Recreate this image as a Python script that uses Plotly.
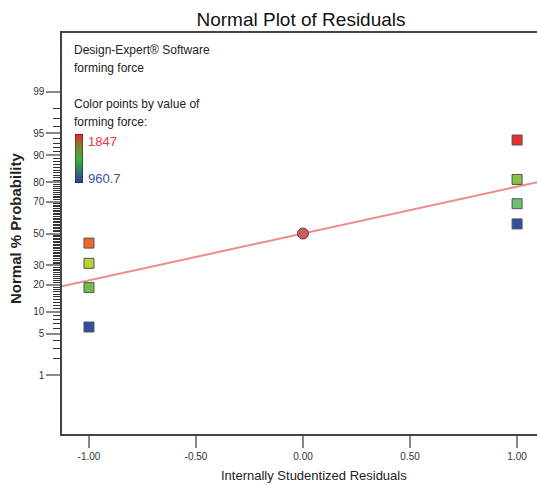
import plotly.graph_objects as go
from statistics import NormalDist

# ---- data ----
residuals = [-1.0, -1.0, -1.0, -1.0, 1.0, 1.0, 1.0, 1.0]
normal_prob = [6.25, 18.75, 31.25, 43.75, 56.25, 68.75, 81.25, 93.75]
point_colors = ["#3350A0", "#6CBE4C", "#B9D134", "#F0662A",
                "#3350A0", "#6CC070", "#86C23C", "#E8302E"]
center_resid = [0.0]
center_prob = [50.0]
line_resid = [-1.2, 1.2]
line_prob = [17.8, 82.2]
prob_ticks = [1, 5, 10, 20, 30, 50, 70, 80, 90, 95, 99]
minor_prob = [p for p in range(2, 99) if p not in prob_ticks]
x_ticks = [-1.0, -0.5, 0.0, 0.5, 1.0]
x_tick_labels = ["-1.00", "-0.50", "0.00", "0.50", "1.00"]
force_range = [960.7, 1847]

nd = NormalDist()
def zq(p):
    return nd.inv_cdf(p / 100.0)

FONT = "Liberation Sans, Arial, sans-serif"
L, T, W, H = 62, 33, 475, 401   # plot area in pixels

def px(x):
    return (x - L) / W

def py(y):
    return (T + H - y) / H

fig = go.Figure()

fig.add_trace(go.Scatter(
    x=line_resid, y=[zq(p) for p in line_prob], mode="lines",
    line=dict(color="#F08A8A", width=2), hoverinfo="skip", showlegend=False))

fig.add_trace(go.Scatter(
    x=residuals, y=[zq(p) for p in normal_prob], mode="markers",
    marker=dict(symbol="square", size=10, color=point_colors,
                line=dict(color="#555555", width=1)),
    showlegend=False))

fig.add_trace(go.Scatter(
    x=center_resid, y=[zq(p) for p in center_prob], mode="markers",
    marker=dict(symbol="circle", size=11, color="#C46060",
                line=dict(color="#7A3A3A", width=1)),
    showlegend=False))

# colour key bar drawn as a tiny heatmap on an inset axis
fig.add_trace(go.Heatmap(
    z=[[force_range[0]], [force_range[1]]], x=[0], y=[0, 1],
    zsmooth="best", showscale=False, hoverinfo="skip",
    colorscale=[[0, "#283C9A"], [0.5, "#3CB043"], [0.78, "#8A7A30"], [1, "#E8242A"]],
    xaxis="x2", yaxis="y2"))

fig.update_layout(
    width=537, height=485,
    margin=dict(l=L, r=537 - L - W, t=T, b=485 - T - H, autoexpand=False),
    paper_bgcolor="white", plot_bgcolor="white",
    font=dict(family=FONT, color="#222"),
    title=dict(text="Normal Plot of Residuals", x=301 / 537, xanchor="center",
               y=1 - 19 / 485, yanchor="middle",
               font=dict(size=19, color="#111", family=FONT)),
    showlegend=False,
    xaxis=dict(
        range=[-1.126, 1.093], tickvals=x_ticks, ticktext=x_tick_labels,
        ticks="outside", ticklen=12, tickwidth=2, tickcolor="#888",
        tickfont=dict(size=10, color="#333"), automargin=False,
        showline=True, linecolor="#444", linewidth=1.5, mirror=True,
        showgrid=False, zeroline=False),
    yaxis=dict(
        range=[-3.29, 3.29], tickvals=[zq(p) for p in prob_ticks],
        ticktext=[str(p) for p in prob_ticks],
        ticks="outside", ticklen=14, tickwidth=2, tickcolor="#888",
        tickfont=dict(size=10, color="#333"), automargin=False,
        minor=dict(tickvals=[zq(p) for p in minor_prob], ticks="outside",
                   ticklen=7, tickwidth=1, tickcolor="#333", showgrid=False),
        showline=True, linecolor="#444", linewidth=1.5, mirror=False,
        showgrid=False, zeroline=False),
    xaxis2=dict(domain=[px(75), px(83)], range=[-0.5, 0.5], anchor="y2",
                visible=False, fixedrange=True),
    yaxis2=dict(domain=[py(183), py(134)], range=[0, 1], anchor="x2",
                visible=False, fixedrange=True),
)

fig.add_shape(type="rect", xref="x2", yref="y2", x0=-0.5, x1=0.5, y0=0, y1=1,
              line=dict(color="#222", width=1))

annots = [
    ("Design-Expert® Software", 50),
    ("forming force", 68),
    ("Color points by value of", 104),
    ("forming force:", 122),
]
for text, y in annots:
    fig.add_annotation(text=text, xref="paper", yref="paper",
                       x=px(72), y=py(y), xanchor="left", yanchor="middle",
                       showarrow=False, font=dict(size=12, color="#222", family=FONT))

fig.add_annotation(text=f"{force_range[1]:g}", xref="paper", yref="paper",
                   x=px(86), y=py(141), xanchor="left", yanchor="middle",
                   showarrow=False, font=dict(size=13, color="#E8383A", family=FONT))
fig.add_annotation(text=f"{force_range[0]:g}", xref="paper", yref="paper",
                   x=px(86), y=py(178), xanchor="left", yanchor="middle",
                   showarrow=False, font=dict(size=13, color="#4050A8", family=FONT))

fig.add_annotation(text="Internally Studentized Residuals", xref="paper", yref="paper",
                   x=px(314), y=py(476), xanchor="center", yanchor="middle",
                   showarrow=False, font=dict(size=13, color="#222", family=FONT))
fig.add_annotation(text="<b>Normal % Probability</b>", xref="paper", yref="paper",
                   x=px(15), y=py(228), xanchor="center", yanchor="middle",
                   textangle=-90, showarrow=False,
                   font=dict(size=15, color="#222", family=FONT))

fig.write_html("out.html", config={"displayModeBar": False},
               post_script="document.body.style.margin='0px';")
